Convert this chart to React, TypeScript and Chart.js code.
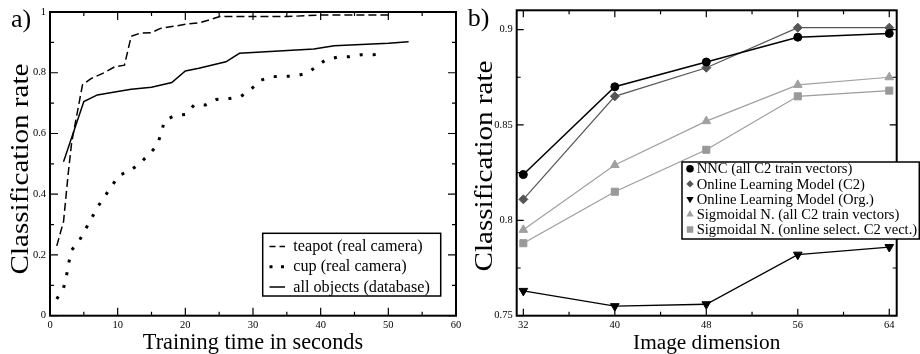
import React, { useEffect, useRef } from 'react';
import { Chart, registerables } from 'chart.js';

Chart.register(...registerables);

const SERIF = "'Liberation Serif', 'Times New Roman', Times, serif";

// ---------- Panel a) : classification rate vs training time ----------
const teapotTime = [1, 2, 2.7, 3.2, 4.8, 6, 8, 9.6, 11, 12, 13.3, 15, 16.3, 18, 20.2, 22.2, 25.1, 30, 35, 40, 45, 50];
const teapotRate = [0.23, 0.31, 0.47, 0.57, 0.76, 0.78, 0.8, 0.82, 0.825, 0.92, 0.93, 0.932, 0.946, 0.952, 0.96, 0.965, 0.985, 0.985, 0.985, 0.99, 0.99, 0.99];

const cupTime = [1, 2, 2.45, 2.8, 3.2, 4.4, 7.1, 10.2, 11.8, 13.3, 14.6, 15.8, 16.4, 16.9, 18.3, 20.1, 21.3, 23, 24.6, 26.5, 28.2, 29.7, 31, 32.7, 36.2, 37.9, 39.4, 40.7, 42.4, 44.2, 46, 47.8, 49.6];
const cupRate = [0.055, 0.091, 0.133, 0.177, 0.216, 0.25, 0.36, 0.462, 0.477, 0.502, 0.531, 0.56, 0.598, 0.641, 0.658, 0.663, 0.694, 0.694, 0.712, 0.715, 0.722, 0.745, 0.774, 0.787, 0.789, 0.798, 0.82, 0.842, 0.851, 0.853, 0.859, 0.859, 0.863];

const allTime = [2, 5, 7, 10, 12, 15, 18, 20, 22, 26, 28, 39, 42, 50, 53];
const allRate = [0.507, 0.705, 0.727, 0.738, 0.746, 0.752, 0.768, 0.806, 0.815, 0.836, 0.864, 0.878, 0.889, 0.897, 0.902];

const aXTicks = [0, 10, 20, 30, 40, 50, 60];
const aXMinor = [5, 15, 25, 35, 45, 55];
const aYTicks = [0, 0.2, 0.4, 0.6, 0.8, 1];
const aYMinor = [0.1, 0.3, 0.5, 0.7, 0.9];
const aLegend = ['teapot (real camera)', 'cup (real camera)', 'all objects (database)'];

// ---------- Panel b) : classification rate vs image dimension ----------
const dims = [32, 40, 48, 56, 64];
const nnc = [0.824, 0.87, 0.883, 0.896, 0.898];
const olmC2 = [0.811, 0.865, 0.88, 0.901, 0.901];
const olmOrg = [0.763, 0.755, 0.756, 0.782, 0.786];
const sigAll = [0.795, 0.829, 0.852, 0.871, 0.875];
const sigOnline = [0.788, 0.815, 0.837, 0.865, 0.868];

const bXMinor = [36, 44, 52, 60];
const bYTicks = [0.75, 0.8, 0.85, 0.9];
const bYMinor = [0.775, 0.825, 0.875];
const bLegend = [
  'NNC (all C2 train vectors)',
  'Online Learning Model (C2)',
  'Online Learning Model (Org.)',
  'Sigmoidal N. (all C2 train vectors)',
  'Sigmoidal N. (online select. C2 vect.)',
];

const zip = (xs: number[], ys: number[]) => xs.map((x, i) => ({ x, y: ys[i] }));
const fmt = (v: any) => String(+Number(v).toFixed(3));

function drawFrame(chart: any, cfg: any) {
  const { ctx, chartArea: a } = chart;
  const x = chart.scales.x;
  const y = chart.scales.y;
  ctx.save();
  ctx.strokeStyle = '#000';
  ctx.lineWidth = 1.2;
  ctx.beginPath();
  const xt = (vals: number[], len: number) => {
    for (const v of vals) {
      const px = x.getPixelForValue(v);
      ctx.moveTo(px, a.bottom); ctx.lineTo(px, a.bottom - len);
      ctx.moveTo(px, a.top); ctx.lineTo(px, a.top + len);
    }
  };
  const yt = (vals: number[], len: number) => {
    for (const v of vals) {
      const py = y.getPixelForValue(v);
      ctx.moveTo(a.left, py); ctx.lineTo(a.left + len, py);
      ctx.moveTo(a.right, py); ctx.lineTo(a.right - len, py);
    }
  };
  xt(cfg.xMajor, cfg.major); xt(cfg.xMinor, cfg.minor);
  yt(cfg.yMajor, cfg.major); yt(cfg.yMinor, cfg.minor);
  ctx.stroke();
  ctx.lineWidth = 2;
  ctx.strokeRect(a.left, a.top, a.right - a.left, a.bottom - a.top);
  ctx.restore();
}

function txt(ctx: any, s: string, x: number, y: number, size: number, align = 'left') {
  ctx.font = `${size}px ${SERIF}`;
  ctx.fillStyle = '#000';
  ctx.textAlign = align;
  ctx.textBaseline = 'alphabetic';
  ctx.fillText(s, x, y);
}

function vtxt(ctx: any, s: string, baseX: number, centerY: number, size: number, length: number) {
  ctx.save();
  ctx.font = `${size}px ${SERIF}`;
  const w = ctx.measureText(s).width;
  ctx.translate(baseX, centerY);
  ctx.rotate(-Math.PI / 2);
  ctx.scale(length / w, 1);
  ctx.fillStyle = '#000';
  ctx.textAlign = 'center';
  ctx.textBaseline = 'alphabetic';
  ctx.fillText(s, 0, 0);
  ctx.restore();
}

function marker(ctx: any, style: string, x: number, y: number, r: number, color: string) {
  ctx.fillStyle = color;
  ctx.beginPath();
  if (style === 'circle') ctx.arc(x, y, r, 0, Math.PI * 2);
  else if (style === 'diamond') { ctx.moveTo(x, y - r); ctx.lineTo(x + r, y); ctx.lineTo(x, y + r); ctx.lineTo(x - r, y); ctx.closePath(); }
  else if (style === 'up') { ctx.moveTo(x, y - r); ctx.lineTo(x + r * 0.866, y + r * 0.5); ctx.lineTo(x - r * 0.866, y + r * 0.5); ctx.closePath(); }
  else if (style === 'down') { ctx.moveTo(x, y + r); ctx.lineTo(x + r * 0.866, y - r * 0.5); ctx.lineTo(x - r * 0.866, y - r * 0.5); ctx.closePath(); }
  else { const h = r * 0.707; ctx.rect(x - h, y - h, 2 * h, 2 * h); }
  ctx.fill();
}

const baseScale = (ticks: number[], pad: number, extra: any) => ({
  type: 'linear',
  grid: { display: false, drawTicks: false, tickLength: 0 },
  border: { display: false },
  afterBuildTicks: (s: any) => { s.ticks = ticks.map((value) => ({ value })); },
  ticks: {
    autoSkip: false,
    maxRotation: 0,
    padding: pad,
    color: '#000',
    font: { family: SERIF, size: 10.5 },
    callback: fmt,
  },
  ...extra,
});

function configA(): any {
  return {
    type: 'line',
    data: {
      datasets: [
        { label: aLegend[0], data: zip(teapotTime, teapotRate), borderColor: '#000', borderWidth: 1.5, borderDash: [8, 4], pointRadius: 0, fill: false },
        { label: aLegend[1], data: zip(cupTime, cupRate), borderColor: '#000', borderWidth: 3, borderDash: [3, 10], borderCapStyle: 'butt', pointRadius: 0, fill: false },
        { label: aLegend[2], data: zip(allTime, allRate), borderColor: '#000', borderWidth: 1.5, pointRadius: 0, fill: false },
      ],
    },
    options: {
      animation: false,
      responsive: false,
      devicePixelRatio: 1,
      layout: { padding: { top: 12, right: 14, left: 0, bottom: 0 } },
      plugins: { legend: { display: false }, tooltip: { enabled: false } },
      scales: {
        x: baseScale(aXTicks, 3, { min: 0, max: 60, afterFit: (s: any) => { s.height = 38.3; } }),
        y: baseScale(aYTicks, 4, { min: 0, max: 1, afterFit: (s: any) => { s.width = 50; } }),
      },
    },
    plugins: [{
      id: 'decorA',
      afterDatasetsDraw(chart: any) {
        drawFrame(chart, { xMajor: aXTicks, xMinor: aXMinor, yMajor: aYTicks, yMinor: aYMinor, major: 8, minor: 4 });
      },
      afterDraw(chart: any) {
        const ctx = chart.ctx;
        const ca = chart.chartArea;
        txt(ctx, 'a)', 11, 26.5, 26);
        txt(ctx, 'Training time in seconds', (ca.left + ca.right) / 2, 349.3, 22.3, 'center');
        vtxt(ctx, 'Classification rate', 28.3, 169, 25.5, 211);
        // legend
        const bx = 262.7, by = 233.3, bw = 178, bh = 62.7;
        ctx.save();
        ctx.fillStyle = '#fff';
        ctx.fillRect(bx, by, bw, bh);
        ctx.strokeStyle = '#000';
        ctx.lineWidth = 1.5;
        ctx.strokeRect(bx, by, bw, bh);
        const bases = [251, 271.4, 291.6];
        const dashes = [[6, 4], [3, 8.5], []];
        const widths = [1.5, 3, 1.5];
        bases.forEach((b, i) => {
          ctx.beginPath();
          ctx.setLineDash(dashes[i]);
          ctx.lineWidth = widths[i];
          ctx.lineCap = 'butt';
          ctx.moveTo(269.5, b - 4.6);
          ctx.lineTo(285, b - 4.6);
          ctx.stroke();
          ctx.setLineDash([]);
          txt(ctx, aLegend[i], 293.3, b, 16.2);
        });
        ctx.restore();
      },
    }],
  };
}

const bStyles = [
  { data: nnc, color: '#000', line: '#000', style: 'circle', r: 4, lw: 1.5, rot: 0, lr: 3.8, lstyle: 'circle' },
  { data: olmC2, color: '#555', line: '#555', style: 'rectRot', r: 4.5, lw: 1.2, rot: 0, lr: 3.6, lstyle: 'diamond' },
  { data: olmOrg, color: '#000', line: '#000', style: 'triangle', r: 5, lw: 1.3, rot: 180, lr: 4.2, lstyle: 'down' },
  { data: sigAll, color: '#a0a0a0', line: '#a0a0a0', style: 'triangle', r: 5, lw: 1.2, rot: 0, lr: 4.2, lstyle: 'up' },
  { data: sigOnline, color: '#999', line: '#9c9c9c', style: 'rect', r: 5, lw: 1.2, rot: 0, lr: 4.6, lstyle: 'square' },
];

const OXB = 460;

function configB(): any {
  return {
    type: 'line',
    data: {
      datasets: bStyles.map((s, i) => ({
        label: bLegend[i],
        data: zip(dims, s.data),
        borderColor: s.line,
        borderWidth: s.lw,
        backgroundColor: s.color,
        pointBackgroundColor: s.color,
        pointBorderColor: s.color,
        pointBorderWidth: 1,
        pointStyle: s.style,
        pointRadius: s.r,
        pointRotation: s.rot,
        fill: false,
        clip: false,
      })),
    },
    options: {
      animation: false,
      responsive: false,
      devicePixelRatio: 1,
      layout: { padding: { top: 7.3, right: 23.3, left: 0, bottom: 0 } },
      plugins: { legend: { display: false }, tooltip: { enabled: false } },
      scales: {
        x: baseScale(dims, 3, { min: 31.42, max: 64.65, afterFit: (s: any) => { s.height = 38.3; } }),
        y: baseScale(bYTicks, 4, { min: 0.75, max: 0.9101, afterFit: (s: any) => { s.width = 56.7; } }),
      },
    },
    plugins: [{
      id: 'decorB',
      afterDatasetsDraw(chart: any) {
        drawFrame(chart, { xMajor: dims, xMinor: bXMinor, yMajor: bYTicks, yMinor: bYMinor, major: 7, minor: 4 });
      },
      afterDraw(chart: any) {
        const ctx = chart.ctx;
        const ca = chart.chartArea;
        txt(ctx, 'Image dimension', (ca.left + ca.right) / 2, 349, 21.3, 'center');
        ctx.save();
        ctx.translate(-OXB, 0);
        txt(ctx, 'b)', 467.7, 26, 26);
        vtxt(ctx, 'Classification rate', 491.5, 166, 25.5, 211);
        // legend
        const bx = 682, by = 162, bw = 237.3, bh = 77;
        ctx.fillStyle = '#fff';
        ctx.fillRect(bx, by, bw, bh);
        ctx.strokeStyle = '#000';
        ctx.lineWidth = 1.5;
        ctx.strokeRect(bx, by, bw, bh);
        bStyles.forEach((s, i) => {
          const b = 173.3 + i * 15.2;
          marker(ctx, s.lstyle, 690, b - 4.6, s.lr, s.color);
          txt(ctx, bLegend[i], 696.7, b, 14.6);
        });
        ctx.restore();
      },
    }],
  };
}

export default function App() {
  const refA = useRef<HTMLCanvasElement>(null);
  const refB = useRef<HTMLCanvasElement>(null);
  useEffect(() => {
    const a = new Chart(refA.current as HTMLCanvasElement, configA());
    const b = new Chart(refB.current as HTMLCanvasElement, configB());
    return () => { a.destroy(); b.destroy(); };
  }, []);
  return (
    <div style={{ position: 'fixed', left: 0, top: 0, width: 920, height: 354, background: '#fff', overflow: 'hidden' }}>
      <canvas ref={refA} width={470} height={354} style={{ position: 'absolute', left: 0, top: 0, width: 470, height: 354 }} />
      <canvas ref={refB} width={460} height={354} style={{ position: 'absolute', left: OXB, top: 0, width: 460, height: 354 }} />
    </div>
  );
}
